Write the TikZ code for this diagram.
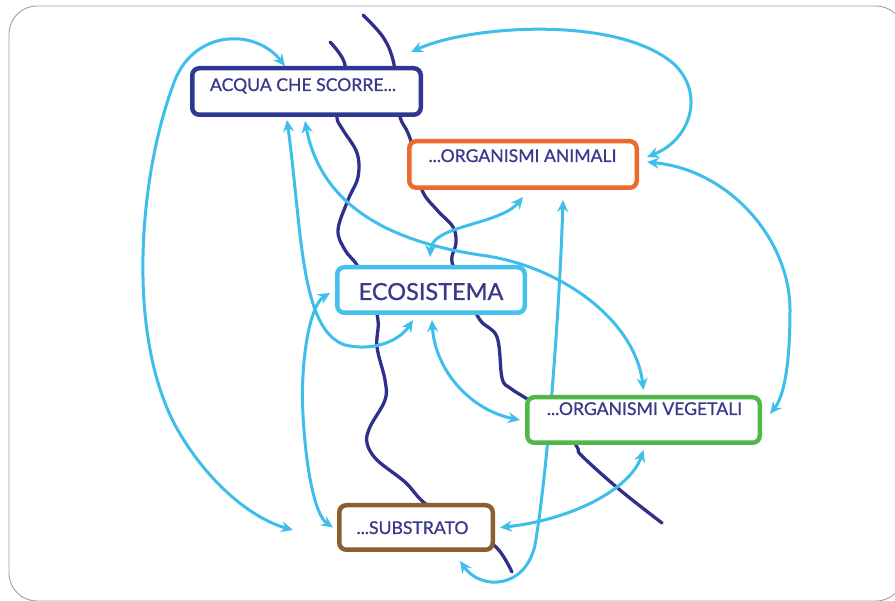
\documentclass[tikz,border=0pt]{standalone}
\usepackage{fontspec}
\setmainfont{Lato}
\newfontfamily\boxfont[FakeBold=0.9]{Lato}
\usetikzlibrary{arrows.meta}
\definecolor{skyline}{RGB}{62,190,234}
\definecolor{riverblue}{RGB}{48,48,140}
\definecolor{inkblue}{RGB}{58,58,140}
\definecolor{acquablue}{RGB}{46,56,148}
\definecolor{animorange}{RGB}{236,106,44}
\definecolor{vegegreen}{RGB}{78,184,72}
\definecolor{subbrown}{RGB}{140,94,48}
\definecolor{ecoblue}{RGB}{70,192,236}
\pgfdeclarelayer{background}
\pgfsetlayers{background,main}
\tikzset{
  box/.style={draw=#1, line width=4.5pt, rounded corners=7pt, fill=white,
    inner sep=0pt},
  txt/.style={anchor=base, text=inkblue, inner sep=0pt,
    font=\boxfont\fontsize{17.6}{20}\selectfont},
  bigtxt/.style={txt, font=\boxfont\fontsize{23.5}{26}\selectfont},
  river/.style={draw=riverblue, line width=3.3pt, line cap=round,
    line join=round},
  link/.style={draw=skyline, line width=3pt, {Stealth[length=12pt,width=11pt,inset=4pt]}-{Stealth[length=12pt,width=11pt,inset=4pt]}},
}
\begin{document}
\begin{tikzpicture}[x=1pt,y=-1pt]
\useasboundingbox (0,0) rectangle (895,601);

% boxes
\node[box=acquablue, minimum width=228.5pt, minimum height=46.5pt] (acqua) at (306.5,91.5) {};
\node[box=animorange, minimum width=227.5pt, minimum height=46.5pt] (anim) at (523,164.5) {};
\node[box=ecoblue, minimum width=187.5pt, minimum height=45.5pt] (eco) at (431,290) {};
\node[box=vegegreen, minimum width=232.5pt, minimum height=45.5pt] (veg) at (643.5,420) {};
\node[box=subbrown, minimum width=153.5pt, minimum height=44.5pt] (sub) at (416,527.5) {};

% labels
\node[txt] (acquat) at (303,91) {ACQUA CHE SCORRE...};
\node[txt] (animt) at (522.5,162) {...ORGANISMI ANIMALI};
\node[bigtxt] (ecot) at (431,300) {ECOSISTEMA};
\node[txt] (vegt) at (644.5,415) {...ORGANISMI VEGETALI};
\node[txt] (subt) at (412.5,534) {...SUBSTRATO};

\begin{pgfonlayer}{background}
% slide frame
\draw[gray!75, line width=0.9pt, rounded corners=28pt] (9,6) rectangle (904,601);

% the two streams
\draw[river] plot[smooth, tension=0.6] coordinates {
  (330,42) (345,65) (340,100) (337,118) (343,130) (357,153) (358,177)
  (348,200) (338,230) (345,250) (357,265) (370,290) (378,320) (377,347)
  (385,380) (385,400) (370,427) (367,443) (377,460) (405,482) (427,505)
  (470,530) (497,548) (512,572)};
\draw[river] plot[smooth, tension=0.6] coordinates {
  (363,15) (383,37) (393,60) (397,90) (400,117) (408,133) (415,155)
  (422,190) (437,210) (453,227) (456,243) (452,262) (465,290) (480,320)
  (497,337) (502,378) (510,388) (524,397) (560,420) (577,447) (582,456)
  (620,490) (662,523)};

% links between the boxes
\draw[link] ([xshift=-21.5pt]acqua.north) .. controls (255,28) and (195,30) .. (175,80)
  .. controls (140,170) and (125,330) .. (175,425)
  .. controls (205,480) and (250,518) .. ([xshift=-44pt,yshift=-2.5pt]sub.west);
\draw[link] ([xshift=-12pt,yshift=14pt]acqua.north east) .. controls (470,25) and (620,15) .. (675,65)
  .. controls (705,95) and (690,140) .. ([xshift=8pt,yshift=7.5pt]anim.east);
\draw[link] ([xshift=8pt,yshift=2.5pt]anim.east) .. controls (730,170) and (790,240) .. (790,310)
  .. controls (790,360) and (785,395) .. ([xshift=8pt,yshift=6pt]veg.east);
\draw[link] ([xshift=-1pt,yshift=8pt]eco.north) .. controls (432,225) and (500,225) .. ([yshift=-7pt]anim.south);
\draw[link] ([xshift=-1.5pt,yshift=-4pt]acqua.south) .. controls (320,200) and (380,240) .. (480,255)
  .. controls (560,265) and (635,320) .. ([yshift=5pt]veg.north);
\draw[link] ([xshift=-19.5pt,yshift=-3pt]acqua.south) .. controls (302,230) and (300,330) .. (345,345)
  .. controls (375,352) and (400,340) .. ([xshift=-18pt,yshift=-5pt]eco.south);
\draw[link] ([xshift=-5pt,yshift=-3pt]eco.west) .. controls (310,305) and (300,360) .. (303,415)
  .. controls (306,470) and (315,515) .. ([xshift=-4pt]sub.west);
\draw[link] ([xshift=1pt,yshift=-5pt]eco.south) .. controls (435,370) and (470,410) .. ([xshift=-5pt]veg.west);
\draw[link] ([xshift=5pt]sub.east) .. controls (570,520) and (630,490) .. ([yshift=-5pt]veg.south);
\draw[link] ([xshift=-35pt,yshift=-9pt]sub.south east) .. controls (480,590) and (525,590) .. (535,545)
  .. controls (548,470) and (560,300) .. ([xshift=40pt,yshift=-10pt]anim.south);
\end{pgfonlayer}
\end{tikzpicture}
\end{document}
